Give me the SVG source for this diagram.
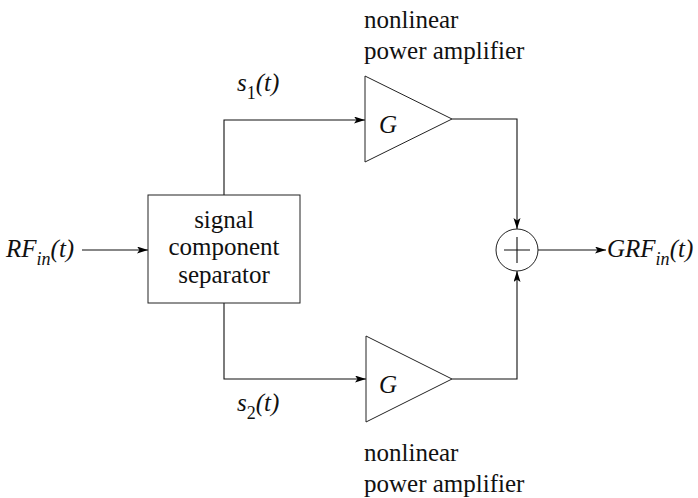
<svg xmlns="http://www.w3.org/2000/svg" width="698" height="498" viewBox="0 0 698 498" font-family="Liberation Serif, serif">
<defs>
<marker id="arr" markerUnits="userSpaceOnUse" markerWidth="12" markerHeight="8" refX="11" refY="3.5" orient="auto">
<path d="M0,0 L11,3.5 L0,7 L2.5,3.5 z" fill="#000"/>
</marker>
<style>
.ln{fill:none;stroke:#111;stroke-width:1.1}
.sh{fill:#fff;stroke:#222;stroke-width:1}
text{font-family:Liberation Serif, serif;font-size:25px;fill:#111}
.i{font-style:italic}
.sub{font-size:18px}
</style>
</defs>
<rect width="698" height="498" fill="#fff"/>
<g id="connectors">
<path class="ln" d="M82,250 H148" marker-end="url(#arr)"/>
<path class="ln" d="M224,195 V120 H365" marker-end="url(#arr)"/>
<path class="ln" d="M224,303 V379 H366" marker-end="url(#arr)"/>
<path class="ln" d="M452,119 H517 V229" marker-end="url(#arr)"/>
<path class="ln" d="M452,379 H517 V271" marker-end="url(#arr)"/>
<path class="ln" d="M538,250 H606" marker-end="url(#arr)"/>
</g>
<g id="input">
<text class="i" x="6" y="257">RF<tspan class="sub" dy="8">in</tspan><tspan dy="-8">(t)</tspan></text>
</g>
<g id="separator">
<rect class="sh" x="148" y="195" width="152" height="108"/>
<text x="224" y="228" text-anchor="middle">signal</text>
<text x="224" y="255" text-anchor="middle">component</text>
<text x="224" y="283" text-anchor="middle">separator</text>
</g>
<g id="label-s1">
<text class="i" x="237" y="91">s<tspan class="sub" dy="8" font-style="normal">1</tspan><tspan dy="-8">(t)</tspan></text>
</g>
<g id="label-s2">
<text class="i" x="237" y="411">s<tspan class="sub" dy="8" font-style="normal">2</tspan><tspan dy="-8">(t)</tspan></text>
</g>
<g id="amp1">
<polygon class="sh" points="365,76 365,162 452,119"/>
<text class="i" x="379" y="133">G</text>
<text x="364" y="28">nonlinear</text>
<text x="364" y="59">power amplifier</text>
</g>
<g id="amp2">
<polygon class="sh" points="366,336 366,422 452,379"/>
<text class="i" x="379" y="393">G</text>
<text x="364" y="461">nonlinear</text>
<text x="364" y="492">power amplifier</text>
</g>
<g id="summer">
<circle class="sh" cx="517" cy="250" r="21"/>
<path class="ln" d="M504,250 H530 M517,237 V263"/>
</g>
<g id="output">
<text class="i" x="607" y="257">GRF<tspan class="sub" dy="8">in</tspan><tspan dy="-8">(t)</tspan></text>
</g>
</svg>
